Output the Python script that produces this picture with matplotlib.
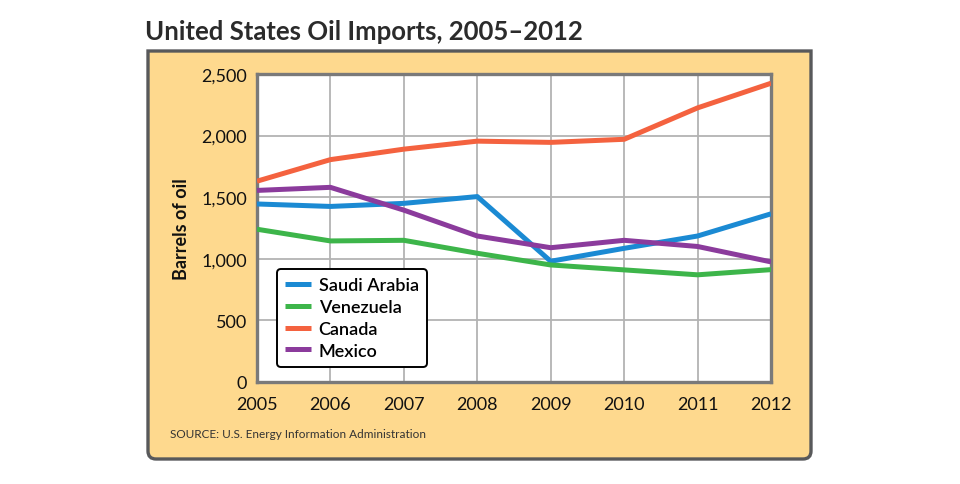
import numpy as np
import matplotlib.pyplot as plt
from matplotlib.path import Path
from matplotlib.patches import PathPatch

years = [2005, 2006, 2007, 2008, 2009, 2010, 2011, 2012]
saudi_arabia = [1445, 1425, 1450, 1505, 980, 1085, 1185, 1365]
venezuela = [1240, 1145, 1150, 1045, 950, 910, 870, 912]
canada = [1630, 1805, 1890, 1955, 1945, 1970, 2225, 2425]
mexico = [1555, 1580, 1395, 1185, 1090, 1150, 1100, 975]

series_names = ['Saudi Arabia', 'Venezuela', 'Canada', 'Mexico']
series_colors = ['#1b8ad3', '#3db54a', '#f4623f', '#8b3b9c']
y_ticks = [0, 500, 1000, 1500, 2000, 2500]
y_tick_labels = ['0', '500', '1,000', '1,500', '2,000', '2,500']

plt.rcParams['font.family'] = ['Lato', 'DejaVu Sans']

fig = plt.figure(figsize=(9.6, 4.85), dpi=100)
fig.patch.set_facecolor('white')

# gold panel: square top corners, rounded bottom ones (pixel coords)
x0, x1, y0, y1, r = 148, 811, 485 - 460, 485 - 52, 8
verts = [(x0, y1), (x1, y1), (x1, y0 + r), (x1, y0), (x1 - r, y0),
         (x0 + r, y0), (x0, y0), (x0, y0 + r), (x0, y1)]
codes = [Path.MOVETO, Path.LINETO, Path.LINETO, Path.CURVE3, Path.CURVE3,
         Path.LINETO, Path.CURVE3, Path.CURVE3, Path.CLOSEPOLY]
panel = PathPatch(Path(verts, codes), transform=None, facecolor='#fed98e',
                  edgecolor='#58595b', linewidth=2.4, zorder=-5)
fig.patches.append(panel)

fig.text(145 / 960, 1 - 32 / 485, 'United States Oil Imports, 2005\u20132012',
         fontsize=18.5, fontweight='bold', color='#2b2b2b', va='center', ha='left')

ax = fig.add_axes([257 / 960, 1 - 383 / 485, (771 - 257) / 960, (383 - 75) / 485])
ax.set_facecolor('white')

for name, vals, col in zip(series_names, [saudi_arabia, venezuela, canada, mexico], series_colors):
    ax.plot(years, vals, color=col, linewidth=3.6, label=name, solid_capstyle='butt', zorder=3)

ax.set_xlim(2005, 2012)
ax.set_ylim(0, 2500)
ax.set_xticks(years)
ax.set_xticklabels([str(y) for y in years], fontsize=13)
ax.set_yticks(y_ticks)
ax.set_yticklabels(y_tick_labels, fontsize=13)
ax.tick_params(length=0, colors='#111111')
ax.tick_params(axis='x', pad=10)
ax.tick_params(axis='y', pad=7)
ax.grid(True, color='#b3b3b3', linewidth=1.3, zorder=1)
for s in ax.spines.values():
    s.set_color('#7a7a7a')
    s.set_linewidth(2.4)

ax.set_ylabel('Barrels of oil', fontsize=13, fontweight='bold', color='#111111', labelpad=8)

leg = ax.legend(loc='lower left', bbox_to_anchor=(0.039, 0.049),
                prop={'size': 13, 'weight': 'semibold'},
                frameon=True, fancybox=True, handlelength=1.45, handletextpad=0.4,
                borderpad=0.45, labelspacing=0.32, borderaxespad=0)
leg.get_frame().set_edgecolor('black')
leg.get_frame().set_linewidth(1.4)
leg.get_frame().set_alpha(1)

fig.text(170 / 960, 1 - 434 / 485, 'SOURCE: U.S. Energy Information Administration',
         fontsize=8.5, color='#333333', va='center', ha='left')

fig.savefig('out.png', dpi=100)
